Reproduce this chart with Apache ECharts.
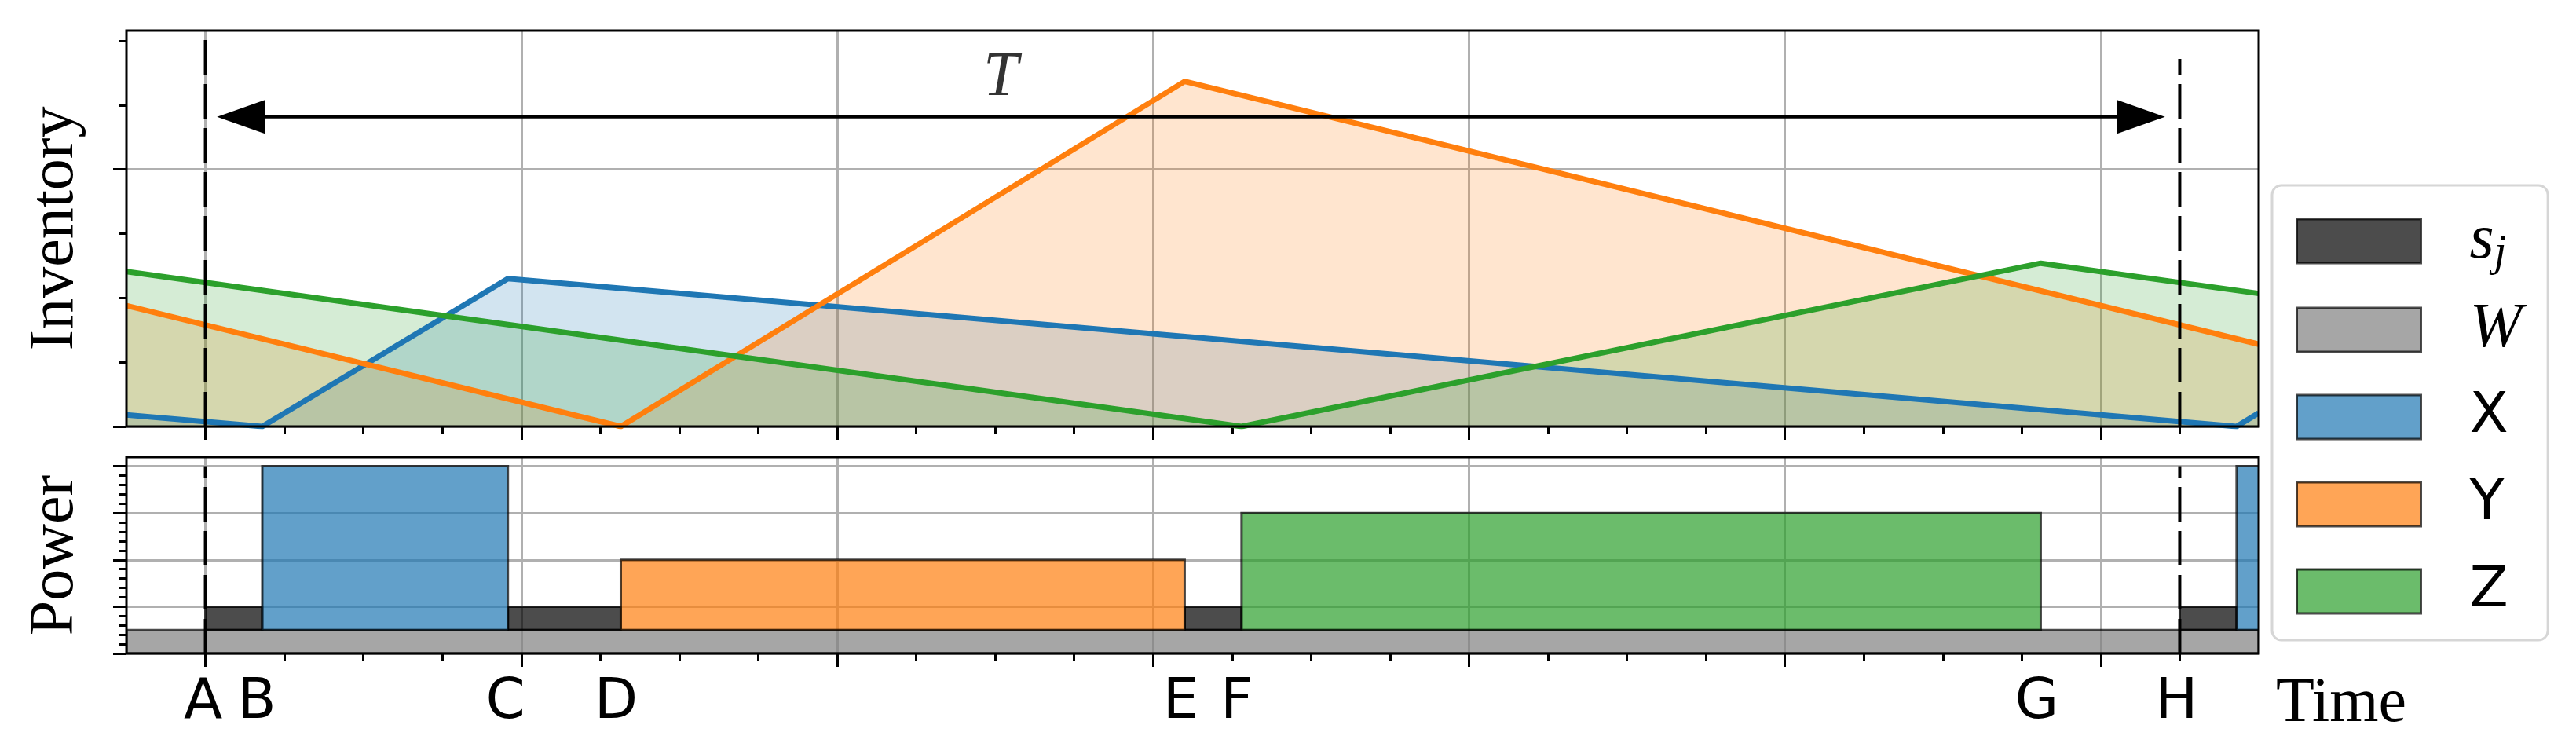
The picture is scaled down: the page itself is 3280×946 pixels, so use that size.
<!DOCTYPE html>
<html><head><meta charset="utf-8">
<script src="https://cdn.jsdelivr.net/npm/echarts@6/dist/echarts.min.js"></script>
<style>html,body{margin:0;padding:0;background:#fff}#chart{width:3280px;height:946px}</style>
</head><body><div id="chart"></div>
<script>
// ---------- data ----------
const eventLabels = ['A', 'B', 'C', 'D', 'E', 'F', 'G', 'H'];
const eventTimes = [0, 0.72, 3.83, 5.26, 12.40, 13.12, 23.24, 25];
const eventLabelTimes = [-0.03, 0.65, 3.80, 5.20, 12.35, 13.06, 23.19, 24.96];

const timeMin = -1, timeMax = 26;
const xMajorTicks = [0, 4, 8, 12, 16, 20, 24];
const xMinorTicks = [1, 2, 3, 5, 6, 7, 9, 10, 11, 13, 14, 15, 17, 18, 19, 21, 22, 23, 25];

const invMax = 6.16;
const invMajorTicks = [0, 4];
const invMinorTicks = [1, 2, 3, 5, 6];

const powMax = 20.97;
const powMajorTicks = [0, 5, 10, 15, 20];
const powMinorTicks = [1, 2, 3, 4, 6, 7, 8, 9, 11, 12, 13, 14, 16, 17, 18, 19];

// inventory levels (time, level)
const invXTime = [-1, 0.72, 3.83, 25.72, 26];
const invXLevel = [0.18, 0, 2.30, 0, 0.21];
const invYTime = [-1, 5.26, 12.40, 26];
const invYLevel = [1.88, 0, 5.37, 1.28];
const invZTime = [-1, 13.12, 23.24, 26];
const invZLevel = [2.41, 0, 2.54, 2.07];

// power profile: [start, end, bottom, top]
const powerW = [[-1, 26, 0, 2.5]];
const powerSetup = [[0, 0.72, 2.5, 5], [3.83, 5.26, 2.5, 5], [12.40, 13.12, 2.5, 5], [25, 25.72, 2.5, 5]];
const powerX = [[0.72, 3.83, 2.5, 20], [25.72, 26.5, 2.5, 20]];
const powerY = [[5.26, 12.40, 2.5, 10]];
const powerZ = [[13.12, 23.24, 2.5, 15]];

// annotations
const periodTop = { A: 6.16, H: 5.72 };
const periodBottom = { A: 20, H: 20 };
const arrowLevel = 4.82;
const arrowHeadCenters = [0.45, 24.51];
const periodLabelPos = [10.07, 5.42];

// ---------- helpers ----------
const pairs = (xs, ys) => xs.map((x, i) => [x, ys[i]]);
const C = { X: '#1f77b4', Y: '#ff7f0e', Z: '#2ca02c' };
const serif = 'Liberation Serif';
const sans = 'DejaVu Sans';

function tickAxis(kind, grid, min, max, ticks, len, split, extra) {
  return Object.assign({
    gridIndex: grid, type: 'value', min: min, max: max,
    position: kind === 'x' ? 'bottom' : 'left',
    axisLine: { show: false, onZero: false },
    axisTick: { show: true, customValues: ticks, length: len, lineStyle: { color: '#000', width: 3 } },
    axisLabel: { show: false },
    splitLine: { show: split, lineStyle: { color: '#b0b0b0', width: 3 } }
  }, extra || {});
}

function rectSeries(name, data, fill) {
  return {
    type: 'custom', name: name, xAxisIndex: 2, yAxisIndex: 2, clip: true, silent: true,
    data: data, encode: { x: [0, 1], y: [2, 3] },
    renderItem: function (params, api) {
      const p0 = api.coord([api.value(0), api.value(3)]);
      const p1 = api.coord([api.value(1), api.value(2)]);
      return {
        type: 'rect',
        shape: { x: p0[0], y: p0[1], width: p1[0] - p0[0], height: p1[1] - p0[1] },
        style: { fill: fill, stroke: 'rgba(0,0,0,0.7)', lineWidth: 3 }
      };
    }
  };
}

function invSeries(name, xs, ys, color) {
  return {
    type: 'line', name: name, xAxisIndex: 0, yAxisIndex: 0, data: pairs(xs, ys),
    symbol: 'none', silent: true, clip: true,
    lineStyle: { color: color, width: 7, join: 'round' },
    itemStyle: { color: color },
    areaStyle: { color: color, opacity: 0.2 }
  };
}

function dashSeries(xi, yi, t, top) {
  return {
    type: 'line', xAxisIndex: xi, yAxisIndex: yi, data: [[t, 0], [t, top]],
    symbol: 'none', silent: true, clip: true, z: 5,
    lineStyle: { color: '#000', width: 4, type: [44, 12] }
  };
}

const fills = {
  s_j: 'rgba(0,0,0,0.7)', W: 'rgba(128,128,128,0.7)',
  X: 'rgba(31,119,180,0.7)', Y: 'rgba(255,127,14,0.7)', Z: 'rgba(44,160,44,0.7)'
};

const option = {
  animation: false,
  backgroundColor: '#fff',
  grid: [
    { left: 161, top: 39, width: 2715, height: 504, show: true, borderColor: '#000', borderWidth: 3, backgroundColor: 'transparent', z: 10, outerBoundsMode: 'none', containLabel: false },
    { left: 161, top: 582, width: 2715, height: 250, show: true, borderColor: '#000', borderWidth: 3, backgroundColor: 'transparent', z: 10, outerBoundsMode: 'none', containLabel: false }
  ],
  xAxis: [
    tickAxis('x', 0, timeMin, timeMax, xMajorTicks, 17, true),
    tickAxis('x', 0, timeMin, timeMax, xMinorTicks, 9, false),
    tickAxis('x', 1, timeMin, timeMax, xMajorTicks, 17, true),
    tickAxis('x', 1, timeMin, timeMax, xMinorTicks, 9, false),
    {
      gridIndex: 1, type: 'value', min: timeMin, max: timeMax, position: 'bottom',
      axisLine: { show: false, onZero: false }, axisTick: { show: false }, splitLine: { show: false },
      axisLabel: {
        show: true, customValues: eventLabelTimes, margin: 27,
        fontFamily: sans, fontSize: 72, color: '#000',
        formatter: function (v) {
          let best = 0;
          eventLabelTimes.forEach((t, i) => { if (Math.abs(t - v) < Math.abs(eventLabelTimes[best] - v)) best = i; });
          return eventLabels[best];
        }
      },
      name: 'Time', nameLocation: 'end', nameGap: 22,
      nameTextStyle: { fontFamily: serif, fontSize: 80, lineHeight: 129, color: '#000', align: 'left', verticalAlign: 'top' }
    }
  ],
  yAxis: [
    tickAxis('y', 0, 0, invMax, invMajorTicks, 17, true, {
      name: 'Inventory', nameLocation: 'middle', nameRotate: 90, nameGap: 50,
      nameTextStyle: { fontFamily: serif, fontSize: 80, color: '#000' }
    }),
    tickAxis('y', 0, 0, invMax, invMinorTicks, 9, false),
    tickAxis('y', 1, 0, powMax, powMajorTicks, 17, true, {
      name: 'Power', nameLocation: 'middle', nameRotate: 90, nameGap: 50,
      nameTextStyle: { fontFamily: serif, fontSize: 80, color: '#000' }
    }),
    tickAxis('y', 1, 0, powMax, powMinorTicks, 9, false)
  ],
  legend: {
    orient: 'vertical', left: 2893, top: 236,
    padding: [27, 33, 20, 30],
    itemWidth: 158, itemHeight: 56, itemGap: 27,
    backgroundColor: '#fff', borderColor: '#d6d6d6', borderWidth: 3, borderRadius: 12,
    selectedMode: false,
    data: ['s_j', 'W', 'X', 'Y', 'Z'].map(n => ({
      name: n, icon: 'rect',
      itemStyle: { color: fills[n], borderColor: 'rgba(0,0,0,0.7)', borderWidth: 3, opacity: 1 }
    })),
    formatter: function (n) {
      if (n === 's_j') return '{gap| }{it|s}{sub|j}';
      if (n === 'W') return '{gap| }{it|W}';
      return '{gap| }{sans|' + n + '}';
    },
    textStyle: {
      fontSize: 56, lineHeight: 84,
      rich: {
        gap: { width: 57, fontSize: 20, lineHeight: 84 },
        sans: { fontFamily: sans, fontSize: 72, lineHeight: 84, color: '#000' },
        it: { fontFamily: serif, fontStyle: 'italic', fontSize: 80, lineHeight: 84, color: '#000' },
        sub: { fontFamily: serif, fontStyle: 'italic', fontSize: 56, lineHeight: 52, padding: [32, 0, 0, 0], color: '#000' }
      }
    }
  },
  series: [
    invSeries('X inventory', invXTime, invXLevel, C.X),
    invSeries('Y inventory', invYTime, invYLevel, C.Y),
    invSeries('Z inventory', invZTime, invZLevel, C.Z),
    dashSeries(0, 0, eventTimes[0], periodTop.A),
    dashSeries(0, 0, eventTimes[7], periodTop.H),
    {
      type: 'line', xAxisIndex: 0, yAxisIndex: 0, silent: true, z: 6,
      data: [[arrowHeadCenters[0], arrowLevel], [arrowHeadCenters[1], arrowLevel]],
      symbol: 'none', lineStyle: { color: '#000', width: 4 }
    },
    {
      type: 'scatter', xAxisIndex: 0, yAxisIndex: 0, silent: true, z: 7,
      symbol: 'triangle', symbolSize: [43, 61],
      itemStyle: { color: '#000', opacity: 1 },
      data: [
        { value: [arrowHeadCenters[0], arrowLevel], symbolRotate: 90 },
        { value: [arrowHeadCenters[1], arrowLevel], symbolRotate: -90 }
      ]
    },
    {
      type: 'scatter', xAxisIndex: 0, yAxisIndex: 0, silent: true, z: 7,
      symbolSize: 0, data: [periodLabelPos],
      label: {
        show: true, position: 'inside', formatter: 'T',
        fontFamily: serif, fontStyle: 'italic', fontSize: 80, color: '#000'
      }
    },
    rectSeries('W', powerW, fills.W),
    rectSeries('s_j', powerSetup, fills.s_j),
    rectSeries('X', powerX, fills.X),
    rectSeries('Y', powerY, fills.Y),
    rectSeries('Z', powerZ, fills.Z),
    dashSeries(2, 2, eventTimes[0], periodBottom.A),
    dashSeries(2, 2, eventTimes[7], periodBottom.H)
  ]
};

const chart = echarts.init(document.getElementById('chart'));
chart.setOption(option);
</script></body></html>
